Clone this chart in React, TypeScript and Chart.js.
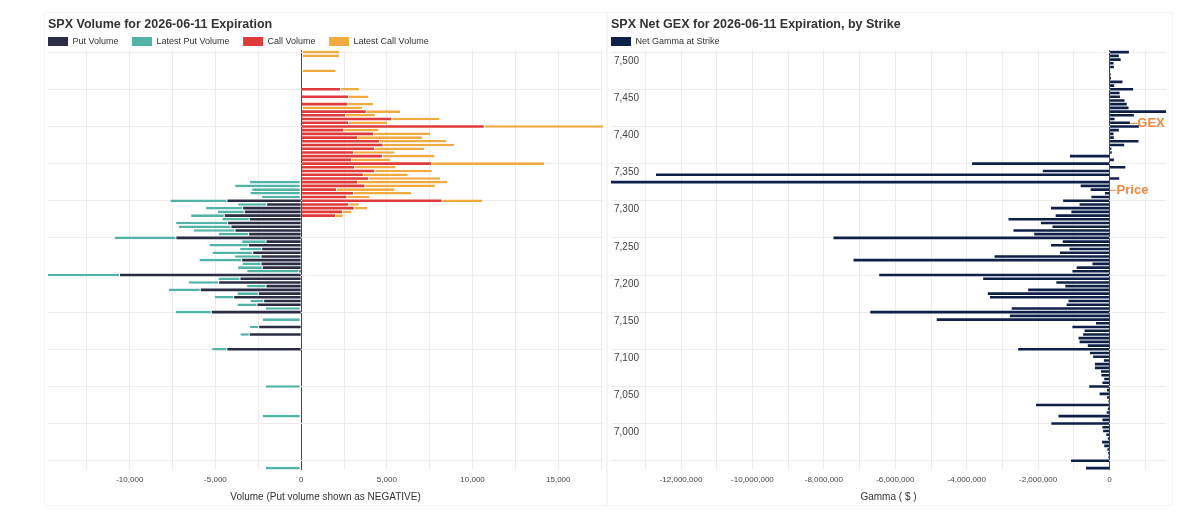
import React, { useEffect, useRef } from 'react';
import { Chart, registerables } from 'chart.js';

Chart.register(...registerables);

const FONT_FAMILY = "'Liberation Sans', Arial, Helvetica, sans-serif";
Chart.defaults.font.family = FONT_FAMILY;
Chart.defaults.color = '#444';

// ---------------- Left panel: volume by strike ----------------
const callStrikes = [
  7500, 7495, 7475, 7450, 7440, 7430, 7425, 7420, 7415, 7410, 7405, 7400, 7395, 7390, 7385, 7380, 7375, 7370,
  7365, 7360, 7355, 7350, 7345, 7340, 7335, 7330, 7325, 7320, 7315, 7310, 7305, 7300, 7295, 7290, 7285, 7280,
];
const callVolume = [
  0, 0, 0, 2270, 2740, 2700, 0, 3770, 2560, 5260, 2740, 10650, 2460, 4200, 3265, 4535, 4750, 4260,
  3030, 4710, 2910, 7585, 3090, 4260, 3600, 3910, 3265, 3695, 2030, 3030, 2640, 8190, 2740, 3070, 2385, 1975,
];
const latestCallVolume = [
  2230, 2230, 2010, 1100, 1190, 1500, 3540, 2010, 1740, 2810, 2270, 6960, 2050, 3320, 3790, 3930, 4165, 2915,
  2425, 3070, 2290, 6590, 2420, 3365, 2620, 4200, 5260, 4105, 3420, 3380, 1350, 2385, 620, 780, 530, 450,
];

const putStrikes = [
  7325, 7320, 7315, 7310, 7305, 7300, 7295, 7290, 7285, 7280, 7275, 7270, 7265, 7260, 7255, 7250, 7245, 7240,
  7235, 7230, 7225, 7220, 7215, 7210, 7205, 7200, 7195, 7190, 7185, 7180, 7175, 7170, 7165, 7160, 7155, 7150,
  7140, 7130, 7120, 7100, 7050, 7010, 6940,
];
const putVolume = [
  0, 0, 0, 0, 0, 4300, 1985, 3385, 3290, 4455, 3000, 4260, 4070, 3835, 3035, 7280, 2025, 3055,
  2275, 2800, 2315, 3445, 2315, 2240, 100, 10570, 3540, 4790, 2025, 5860, 2470, 3910, 2160, 2550, 0, 5215,
  0, 2450, 3000, 4310, 0, 0, 0,
];
const latestPutVolume = [
  3000, 3850, 2860, 2960, 2280, 3330, 1690, 2160, 1575, 1965, 1595, 3035, 3075, 2415, 1770, 3600, 1420, 2295,
  1285, 2375, 1540, 2490, 1110, 1440, 3050, 4200, 1285, 1770, 1130, 1870, 1245, 1130, 800, 1170, 2060, 2100,
  2240, 545, 545, 880, 2060, 2235, 2060,
];

// ---------------- Right panel: net GEX by strike ----------------
const gexStrikes = [
  7500, 7495, 7490, 7485, 7480, 7475, 7470, 7465, 7460, 7455, 7450, 7445, 7440, 7435, 7430, 7425, 7420, 7415,
  7410, 7405, 7400, 7395, 7390, 7385, 7380, 7375, 7370, 7365, 7360, 7355, 7350, 7345, 7340, 7335, 7330, 7325,
  7320, 7315, 7310, 7305, 7300, 7295, 7290, 7285, 7280, 7275, 7270, 7265, 7260, 7255, 7250, 7245, 7240, 7235,
  7230, 7225, 7220, 7215, 7210, 7205, 7200, 7195, 7190, 7185, 7180, 7175, 7170, 7165, 7160, 7155, 7150, 7145,
  7140, 7135, 7130, 7125, 7120, 7115, 7110, 7105, 7100, 7095, 7090, 7085, 7080, 7075, 7070, 7065, 7060, 7055,
  7050, 7045, 7040, 7035, 7030, 7025, 7020, 7015, 7010, 7005, 7000, 6995, 6990, 6985, 6980, 6975, 6970, 6965,
  6960, 6955, 6950, 6945, 6940,
];
const netGamma = [
  540000, 260000, 310000, 110000, 120000, 10000, 30000, 40000, 360000, 130000, 660000, 280000, 290000, 420000, 480000, 530000, 1580000, 680000,
  140000, 570000, 820000, 260000, 110000, 120000, 810000, 410000, 50000, 60000, -1110000, 120000, -3850000, 440000, -1870000, -12700000, 270000, -13960000,
  -810000, -530000, -130000, -510000, -1300000, -840000, -1640000, -1070000, -1510000, -2830000, -1920000, -1600000, -2690000, -2110000, -7730000, -1310000, -1640000, -1120000,
  -1390000, -3220000, -7170000, -480000, -920000, -1040000, -6450000, -3540000, -1490000, -1240000, -2280000, -3410000, -3350000, -1150000, -1200000, -2740000, -6700000, -2790000,
  -4840000, -380000, -1040000, -700000, -740000, -870000, -840000, -610000, -2560000, -550000, -460000, -160000, -410000, -410000, -240000, -230000, -150000, -200000,
  -570000, -70000, -280000, -70000, -30000, -2060000, -50000, -80000, -1430000, -200000, -1630000, -200000, -180000, -90000, -50000, -210000, -150000, -60000,
  -40000, -30000, -1080000, 0, -660000,
];

// level markers drawn on the GEX panel
const markerLabels = ['GEX', 'Price'];
const markerStrikes = [7404, 7314];
const markerValues = [580000, 0];

// axis tick spacing
const STRIKE_STEP = 5;
const STRIKE_GRID = 50;
const STRIKE_LABEL_MIN = 7000;
const VOLUME_GRID = 2500;
const VOLUME_LABEL = 5000;
const GAMMA_GRID = 1000000;
const GAMMA_LABEL = 2000000;

const COLORS = {
  put: '#2b2d44',
  latestPut: '#52b3a7',
  call: '#e03b3b',
  latestCall: '#f0aa40',
  gamma: '#0e1f48',
  marker: '#ef873f',
  grid: '#ececec',
  zero: '#4a4a4a',
  title: '#333333',
};

const fmt = (v: number) => Number(v).toLocaleString('en-US');

// rebuild ticks as every multiple of `step` that lies inside the axis range
const multiplesTicks = (step: number) => (axis: any) => {
  const out: { value: number }[] = [];
  const first = Math.ceil((axis.min - 1e-9) / step);
  const last = Math.floor((axis.max + 1e-9) / step);
  for (let k = first; k <= last; k++) out.push({ value: k * step });
  axis.ticks = out;
};

const gridColor = (ctx: any) => (ctx.tick && ctx.tick.value === 0 ? COLORS.zero : COLORS.grid);

const legendFitPlugin = {
  id: 'legendFit',
  beforeLayout(chart: any, _args: any, opts: any) {
    const legend = chart.legend;
    if (legend && !legend.__fitPatched) {
      const originalFit = legend.fit.bind(legend);
      legend.fit = function () {
        originalFit();
        this.height = Math.max(0, this.height - (opts.trimHeight || 0));
      };
      legend.__fitPatched = true;
    }
  },
  afterLayout(chart: any, _args: any, opts: any) {
    const legend = chart.legend;
    if (legend) {
      legend.left -= opts.shiftLeft || 0;
      legend.right -= opts.shiftLeft || 0;
    }
  },
};

const levelMarkerPlugin = {
  id: 'levelMarkers',
  afterDatasetsDraw(chart: any) {
    const { ctx, scales } = chart;
    ctx.save();
    ctx.font = `bold 13px ${FONT_FAMILY}`;
    ctx.fillStyle = COLORS.marker;
    ctx.strokeStyle = COLORS.marker;
    ctx.lineWidth = 1;
    ctx.textBaseline = 'middle';
    ctx.textAlign = 'left';
    markerLabels.forEach((label, i) => {
      const px = scales.x.getPixelForValue(markerValues[i]);
      const py = scales.y.getPixelForValue(markerStrikes[i]);
      ctx.beginPath();
      ctx.moveTo(px, py);
      ctx.lineTo(px + 7, py);
      ctx.stroke();
      ctx.fillText(label, px + 7, py);
    });
    ctx.restore();
  },
};

const legendLabels = {
  boxWidth: 20,
  boxHeight: 9,
  padding: 13.5,
  color: '#333',
  font: { size: 9 },
  generateLabels: (chart: any) =>
    (Chart.defaults.plugins.legend.labels as any)
      .generateLabels(chart)
      .map((l: any) => ({ ...l, lineWidth: 0, strokeStyle: 'rgba(0,0,0,0)' })),
};

const toPoints = (strikes: number[], values: number[], sign = 1) =>
  strikes.map((s, i) => ({ x: sign * values[i], y: s }));

const strikeRange = (strikes: number[]) => ({
  min: Math.min(...strikes) - STRIKE_STEP / 2,
  max: Math.max(...strikes) + STRIKE_STEP / 2,
});

const xTicksBase = {
  autoSkip: false,
  maxRotation: 0,
  minRotation: 0,
  padding: 5,
  font: { size: 8 },
  color: '#444',
};

const axisTitle = (text: string) => ({
  display: true,
  text,
  color: '#333',
  font: { size: 10 },
  padding: { top: 1.4, bottom: 0 },
});

const chartTitle = (text: string) => ({
  display: true,
  text,
  align: 'start',
  color: COLORS.title,
  font: { size: 12.5, weight: 'bold', lineHeight: 1.2 },
  padding: { top: 0, bottom: -8.5 },
});

const strikeAxisBase = (range: { min: number; max: number }) => ({
  type: 'linear',
  bounds: 'data',
  offset: false,
  min: range.min,
  max: range.max,
  afterBuildTicks: multiplesTicks(STRIKE_GRID),
  afterFit: (s: any) => {
    s.width = 0;
  },
  grid: { color: COLORS.grid, drawTicks: false, offset: false },
  border: { display: false },
});

function buildVolumeConfig() {
  const yr = strikeRange([...callStrikes, ...putStrikes]);
  const xMax = Math.max(...callStrikes.map((_, i) => callVolume[i] + latestCallVolume[i]));
  const xMin = -Math.max(...putStrikes.map((_, i) => putVolume[i] + latestPutVolume[i]));
  return {
    type: 'bar',
    data: {
      datasets: [
        { label: 'Put Volume', data: toPoints(putStrikes, putVolume, -1), backgroundColor: COLORS.put },
        {
          label: 'Latest Put Volume',
          data: toPoints(putStrikes, latestPutVolume, -1),
          backgroundColor: COLORS.latestPut,
          borderColor: '#ffffff',
          borderWidth: { right: 1, left: 0, top: 0, bottom: 0 },
          borderSkipped: false,
        },
        { label: 'Call Volume', data: toPoints(callStrikes, callVolume), backgroundColor: COLORS.call },
        {
          label: 'Latest Call Volume',
          data: toPoints(callStrikes, latestCallVolume),
          backgroundColor: COLORS.latestCall,
          borderColor: '#ffffff',
          borderWidth: { left: 1, right: 0, top: 0, bottom: 0 },
          borderSkipped: false,
        },
      ],
    },
    options: {
      animation: false,
      responsive: false,
      indexAxis: 'y',
      layout: { padding: { left: 48, right: 4, top: 17, bottom: 9 } },
      datasets: { bar: { barPercentage: 0.7, categoryPercentage: 1 } },
      scales: {
        x: {
          type: 'linear',
          bounds: 'data',
          stacked: true,
          min: xMin,
          max: xMax,
          afterBuildTicks: multiplesTicks(VOLUME_GRID),
          grid: { color: gridColor, drawTicks: false, lineWidth: 1 },
          border: { display: false },
          ticks: {
            ...xTicksBase,
            callback: (v: number) => (Math.abs(v % VOLUME_LABEL) < 1e-6 ? fmt(v) : ''),
          },
          title: axisTitle('Volume (Put volume shown as NEGATIVE)'),
        },
        y: {
          ...strikeAxisBase(yr),
          stacked: true,
          ticks: { display: false },
        },
      },
      plugins: {
        title: chartTitle('SPX Volume for 2026-06-11 Expiration'),
        legend: { display: true, position: 'top', align: 'start', labels: legendLabels },
        tooltip: { enabled: false },
        legendFit: { trimHeight: 5.7, shiftLeft: 13.5 },
      },
    },
    plugins: [legendFitPlugin],
  };
}

function buildGexConfig() {
  const yr = strikeRange(gexStrikes);
  const xMin = Math.min(...netGamma);
  const xMax = Math.max(...netGamma);
  return {
    type: 'bar',
    data: {
      datasets: [
        {
          label: 'Net Gamma at Strike',
          data: toPoints(gexStrikes, netGamma),
          backgroundColor: COLORS.gamma,
        },
      ],
    },
    options: {
      animation: false,
      responsive: false,
      indexAxis: 'y',
      layout: { padding: { left: 4, right: 34, top: 17, bottom: 9 } },
      datasets: { bar: { barPercentage: 0.7, categoryPercentage: 1 } },
      scales: {
        x: {
          type: 'linear',
          bounds: 'data',
          min: xMin,
          max: xMax,
          afterBuildTicks: multiplesTicks(GAMMA_GRID),
          grid: { color: gridColor, drawTicks: false, lineWidth: 1 },
          border: { display: false },
          ticks: {
            ...xTicksBase,
            callback: (v: number) => (Math.abs(v % GAMMA_LABEL) < 1e-6 ? fmt(v) : ''),
          },
          title: axisTitle('Gamma ( $ )'),
        },
        y: {
          ...strikeAxisBase(yr),
          ticks: {
            autoSkip: false,
            mirror: true,
            padding: 3,
            labelOffset: 9,
            font: { size: 10 },
            color: '#444',
            callback: (v: number) => (v >= STRIKE_LABEL_MIN ? fmt(v) : ''),
          },
        },
      },
      plugins: {
        title: chartTitle('SPX Net GEX for 2026-06-11 Expiration, by Strike'),
        legend: { display: true, position: 'top', align: 'start', labels: legendLabels },
        tooltip: { enabled: false },
        legendFit: { trimHeight: 5.7, shiftLeft: 13.5 },
      },
    },
    plugins: [legendFitPlugin, levelMarkerPlugin],
  };
}

export default function App() {
  const volumeRef = useRef<HTMLCanvasElement>(null);
  const gexRef = useRef<HTMLCanvasElement>(null);

  useEffect(() => {
    const volumeChart = new Chart(volumeRef.current as HTMLCanvasElement, buildVolumeConfig() as any);
    const gexChart = new Chart(gexRef.current as HTMLCanvasElement, buildGexConfig() as any);
    return () => {
      volumeChart.destroy();
      gexChart.destroy();
    };
  }, []);

  return (
    <div
      style={{
        position: 'fixed',
        left: 0,
        top: 0,
        width: 1200,
        height: 512,
        background: '#ffffff',
        overflow: 'hidden',
      }}
    >
      <div
        style={{
          position: 'absolute',
          left: 44,
          top: 12,
          width: 563,
          height: 494,
          border: '1px solid #f5f5f5',
          boxSizing: 'border-box',
        }}
      />
      <div
        style={{
          position: 'absolute',
          left: 607,
          top: 12,
          width: 566,
          height: 494,
          border: '1px solid #f5f5f5',
          boxSizing: 'border-box',
        }}
      />
      <canvas
        ref={volumeRef}
        width={607}
        height={512}
        style={{ position: 'absolute', left: 0, top: 0, width: 607, height: 512 }}
      />
      <canvas
        ref={gexRef}
        width={593}
        height={512}
        style={{ position: 'absolute', left: 607, top: 0, width: 593, height: 512 }}
      />
    </div>
  );
}
